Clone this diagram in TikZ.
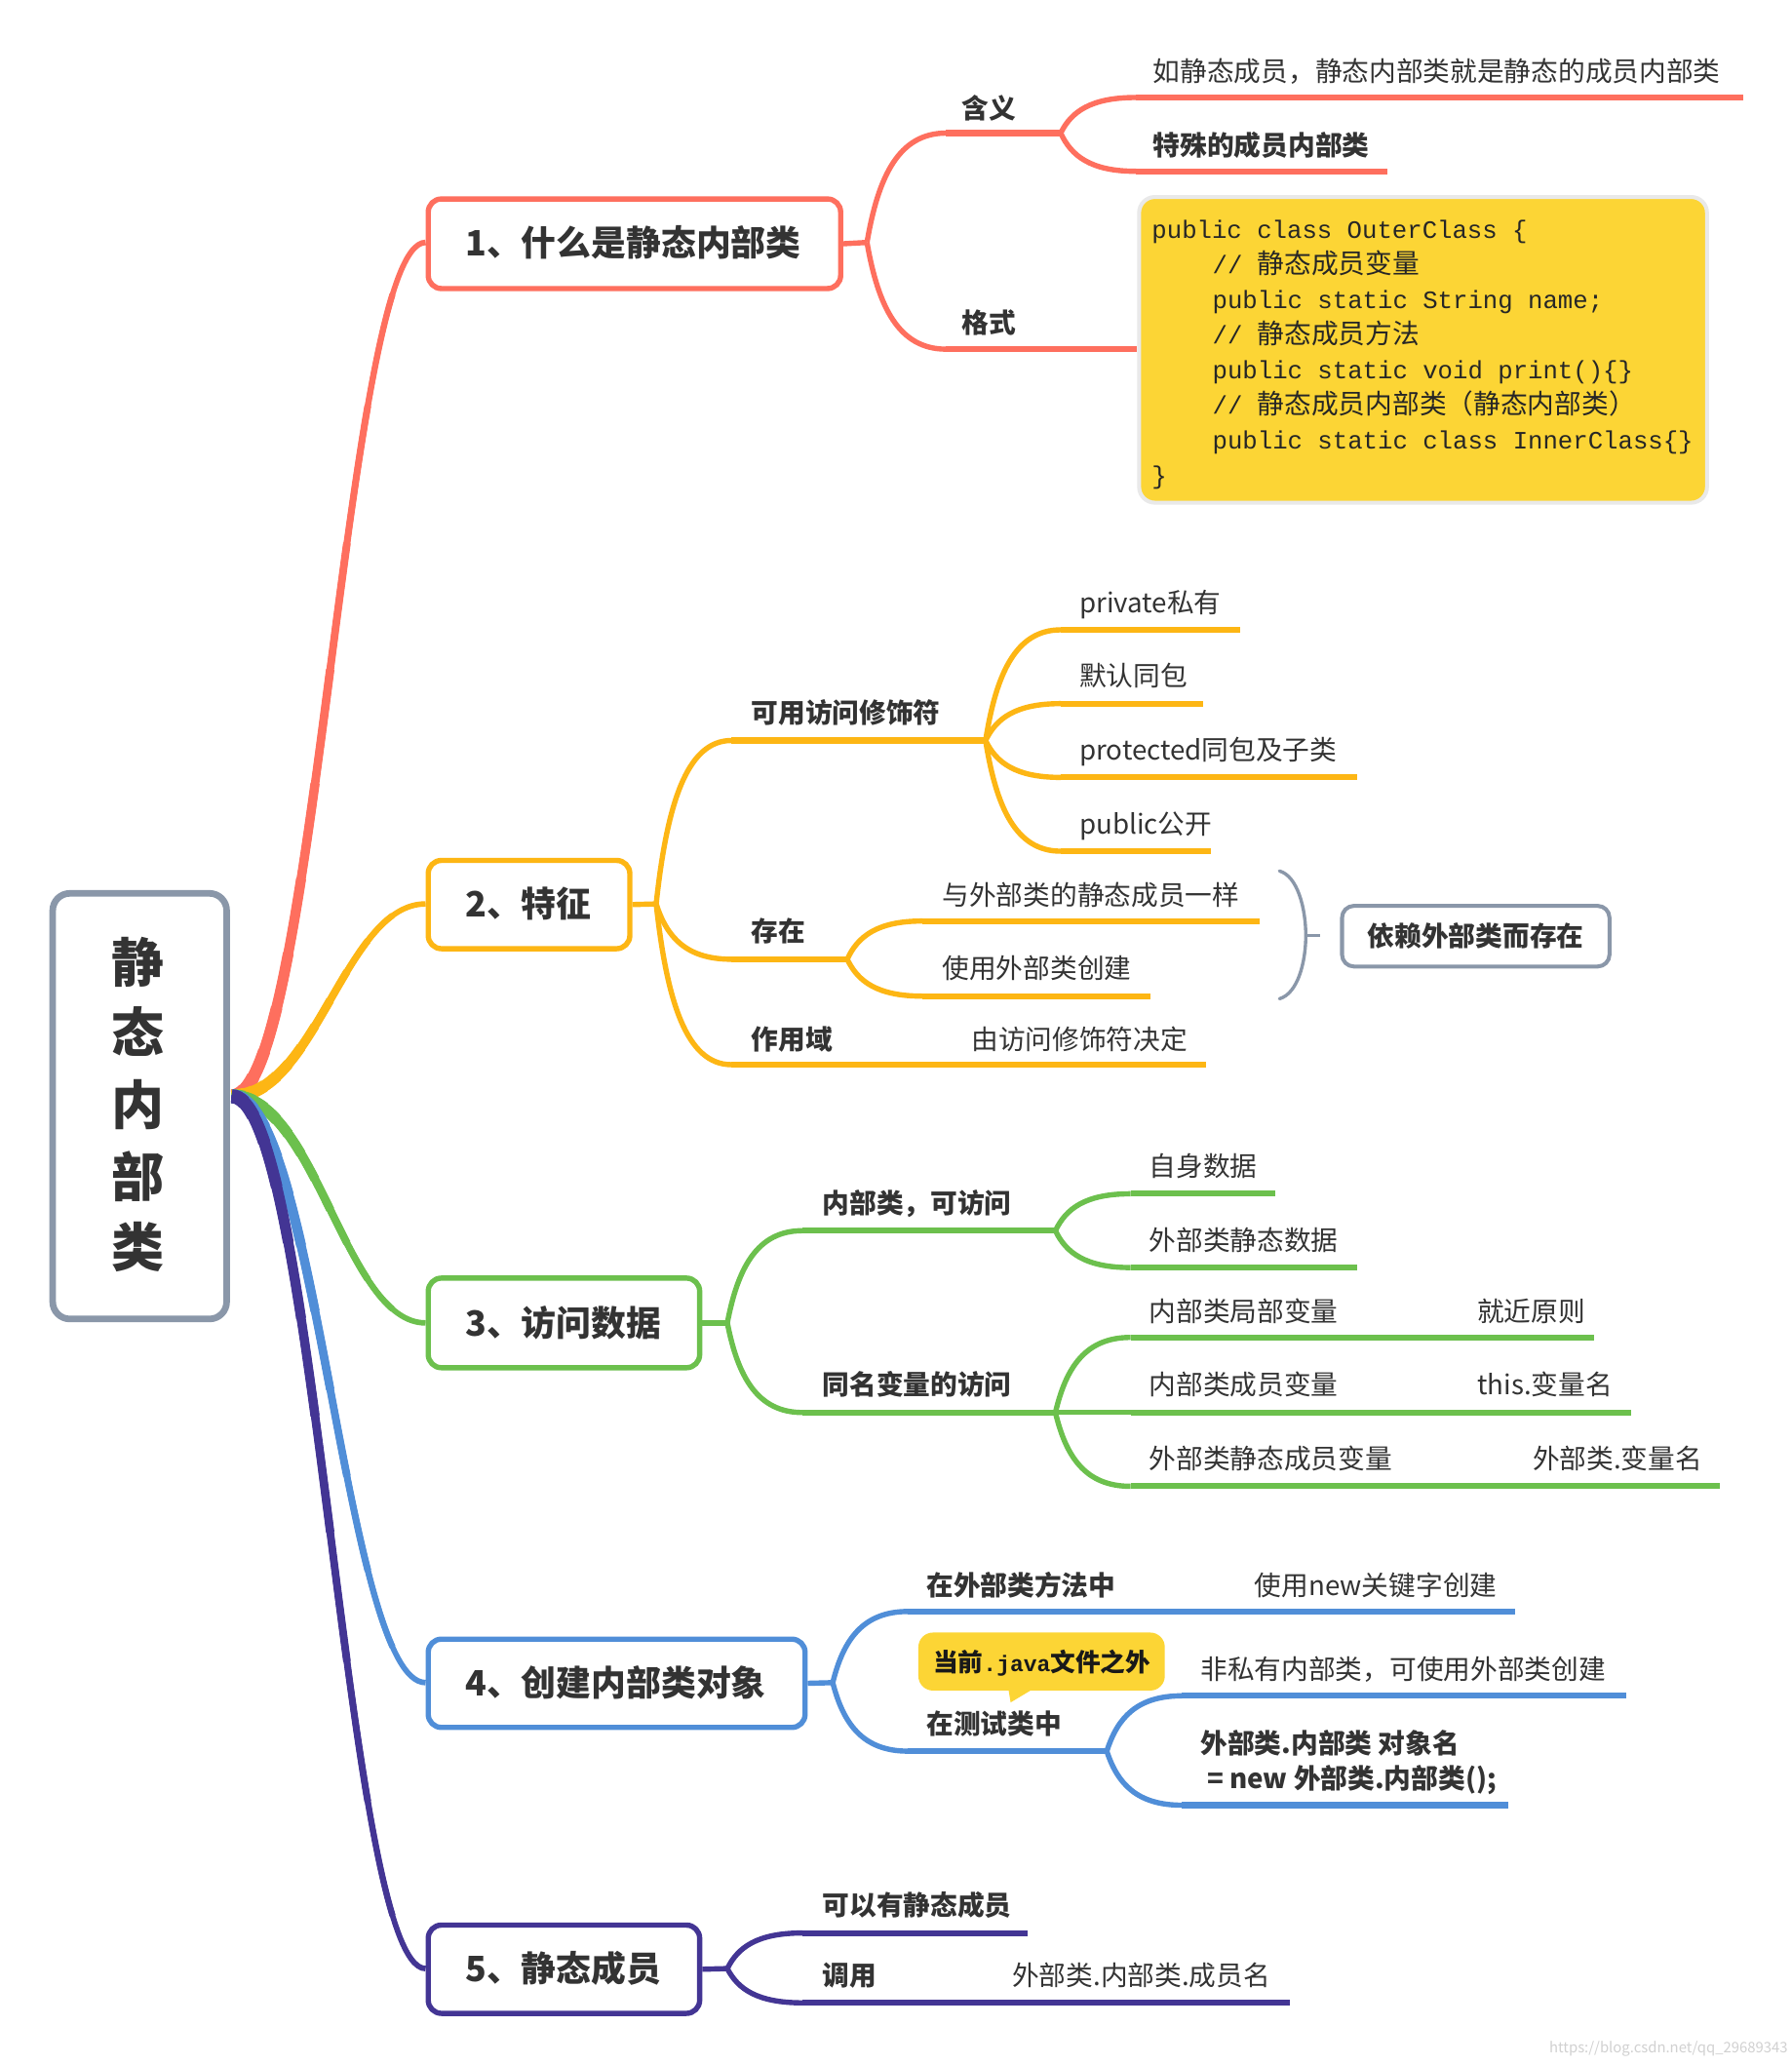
\documentclass[tikz,border=0pt]{standalone}
\usepackage{fontspec}
\setmainfont{Noto Sans CJK SC}
\newfontfamily\codefont{Liberation Mono}
\usetikzlibrary{calc}
\definecolor{cred}{HTML}{FE6F5E}
\definecolor{cyel}{HTML}{FDB614}
\definecolor{cgrn}{HTML}{6CC04D}
\definecolor{cblu}{HTML}{508ED8}
\definecolor{cpur}{HTML}{433594}
\definecolor{cgray}{HTML}{8A97A9}
\definecolor{ccode}{HTML}{FCD535}
\definecolor{ccodeb}{HTML}{E9E9E9}
\definecolor{ctxt}{HTML}{333333}
\newcommand\zh[1]{{\rmfamily\fontsize{20.5}{24}\selectfont #1}}
% tapered main branch from the root to a topic at height #2
\newcommand\mainbr[2]{%
  \foreach \t/\w in {1/4.2, 0.85/4.7, 0.72/5.2, 0.6/5.8, 0.5/6.4, 0.41/7, 0.33/7.6, 0.26/8.2, 0.2/8.8, 0.14/9.4, 0.09/10, 0.05/10.6}{%
    \pgfmathsetmacro\s{1-\t}%
    \pgfmathsetmacro\qax{176+\t*64}%
    \pgfmathsetmacro\qbx{\s*\s*176+2*\t*\s*240+\t*\t*262}%
    \pgfmathsetmacro\qby{(1-\t*\t)*832+\t*\t*#2}%
    \pgfmathsetmacro\qcx{\s*\s*\s*176+3*\t*\s*\s*240+3*\t*\t*\s*262+\t*\t*\t*323}%
    \pgfmathsetmacro\qcy{(\s*\s*\s+3*\t*\s*\s)*832+(3*\t*\t*\s+\t*\t*\t)*#2}%
    \draw[#1, line width=\w pt] (r0) .. controls (\qax,832) and (\qbx,\qby) .. (\qcx,\qcy);
  }}
% junction curve from named point #2 to named point #3
\newcommand\subcv[3]{\draw[#1] let \p1=(#2), \p2=(#3) in (\p1) .. controls ({\x1+0.14*(\x2-\x1)},{\y1+0.6*(\y2-\y1)}) and ({\x1+0.4*(\x2-\x1)},\y2) .. (\p2);}
\begin{document}
\begin{tikzpicture}[x=1pt,y=-1pt,line join=round,
  txt/.style={anchor=west, inner sep=0, text=ctxt, font=\fontsize{20.5}{24}\selectfont, text height=18pt, text depth=2.5pt},
  btxt/.style={txt, font=\fontsize{20.5}{24}\selectfont\bfseries},
  topictxt/.style={txt, font=\fontsize{26.5}{30}\selectfont\bfseries, text height=23.3pt, text depth=3.2pt},
  codeln/.style={txt, font=\codefont\fontsize{19}{24}\selectfont, text=black!85},
  tbox/.style={draw, line width=4pt, rounded corners=10pt, fill=white, inner sep=0},
  ln/.style={line width=4.5pt},
  cv/.style={line width=4pt},
  roottxt/.style={inner sep=0, text=ctxt, font=\fontsize{40}{44}\selectfont\bfseries}
]
\fill[white] (0,0) rectangle (1360,1567.2);
\useasboundingbox (0,0) rectangle (1360,1567.2);

\coordinate (r0) at (176,832);
% main branches
\mainbr{cred}{184}
\mainbr{cyel}{686}
\mainbr{cgrn}{1004}
\mainbr{cblu}{1277}
\mainbr{cpur}{1494}

% root
\node[draw=cgray, line width=5pt, rounded corners=13pt, fill=white, inner sep=0, minimum width=132pt, minimum height=323pt] (root) at (106,839.5) {};
\node[roottxt] (rc1) at (105,730) {静};
\node[roottxt] (rc2) at (105,783) {态};
\node[roottxt] (rc3) at (105,838) {内};
\node[roottxt] (rc4) at (105,893) {部};
\node[roottxt] (rc5) at (105,946) {类};

% topic boxes
\node[tbox, draw=cred, minimum width=313pt, minimum height=68pt] (t1) at (481.5,185) {};
\node[tbox, draw=cyel, minimum width=153pt, minimum height=67pt] (t2) at (401.5,686.5) {};
\node[tbox, draw=cgrn, minimum width=206pt, minimum height=68pt] (t3) at (428,1004) {};
\node[tbox, draw=cblu, minimum width=286pt, minimum height=67pt] (t4) at (468,1277.5) {};
\node[tbox, draw=cpur, minimum width=206pt, minimum height=67pt] (t5) at (428,1494.5) {};
\node[topictxt] (t1t) at (353,184) {1、什么是静态内部类};
\node[topictxt] (t2t) at (353,686) {2、特征};
\node[topictxt] (t3t) at (353,1004) {3、访问数据};
\node[topictxt] (t4t) at (353,1277) {4、创建内部类对象};
\node[topictxt] (t5t) at (353,1494) {5、静态成员};

% ---------- branch 1 ----------
\coordinate (j1) at (658,184);
\coordinate (a1) at (718,101); \coordinate (a1e) at (805,101);
\coordinate (a2) at (718,265);
\coordinate (b1) at (862,74); \coordinate (b1e) at (1323,74);
\coordinate (b2) at (862,130); \coordinate (b2e) at (1053,130);
\node[draw=ccodeb, line width=3pt, fill=ccode, rounded corners=12pt, inner sep=0, minimum width=431pt, minimum height=232pt] (code) at (1080,265.5) {};
\draw[cred,cv] (t1.east) -- (j1);
\subcv{cred,cv}{j1}{a1}
\subcv{cred,cv}{j1}{a2}
\draw[cred,ln] (a1) -- (a1e);
\draw[cred,ln] (a2) -- (code.west |- a2);
\subcv{cred,cv}{a1e}{b1}
\subcv{cred,cv}{a1e}{b2}
\draw[cred,ln] (b1) -- (b1e);
\draw[cred,ln] (b2) -- (b2e);
\node[btxt] (hy) at (730,82) {含义};
\node[btxt] (gs) at (730,245) {格式};
\node[txt] (hy1) at (875,54) {如静态成员，静态内部类就是静态的成员内部类};
\node[btxt] (hy2) at (875,110) {特殊的成员内部类};
\node[codeln] (c1) at (874,173) {public class OuterClass \{};
\node[codeln] (c2) at (920,199.7) {// \zh{静态成员变量}};
\node[codeln] (c3) at (920,226.4) {public static String name;};
\node[codeln] (c4) at (920,253.1) {// \zh{静态成员方法}};
\node[codeln] (c5) at (920,279.8) {public static void print()\{\}};
\node[codeln] (c6) at (920,306.5) {// \zh{静态成员内部类（静态内部类）}};
\node[codeln] (c7) at (920,333.2) {public static class InnerClass\{\}};
\node[codeln] (c8) at (874,359.9) {\}};

% ---------- branch 2 ----------
\coordinate (j2) at (498,686);
\coordinate (p1) at (555,562); \coordinate (p1e) at (748,562);
\coordinate (d1) at (805,478); \coordinate (d1e) at (941,478);
\coordinate (d2) at (805,534); \coordinate (d2e) at (913,534);
\coordinate (d3) at (805,590); \coordinate (d3e) at (1030,590);
\coordinate (d4) at (805,646); \coordinate (d4e) at (919,646);
\coordinate (p2) at (555,728); \coordinate (p2e) at (643,728);
\coordinate (e1) at (700,699); \coordinate (e1e) at (956,699);
\coordinate (e2) at (700,756); \coordinate (e2e) at (873,756);
\coordinate (p3) at (555,808); \coordinate (p3e) at (915,808);
\draw[cyel,cv] (t2.east) -- (j2);
\subcv{cyel,cv}{j2}{p1}
\subcv{cyel,cv}{j2}{p2}
\subcv{cyel,cv}{j2}{p3}
\draw[cyel,ln] (p1) -- (p1e);
\draw[cyel,ln] (p2) -- (p2e);
\draw[cyel,ln] (p3) -- (p3e);
\subcv{cyel,cv}{p1e}{d1}
\subcv{cyel,cv}{p1e}{d2}
\subcv{cyel,cv}{p1e}{d3}
\subcv{cyel,cv}{p1e}{d4}
\draw[cyel,ln] (d1) -- (d1e);
\draw[cyel,ln] (d2) -- (d2e);
\draw[cyel,ln] (d3) -- (d3e);
\draw[cyel,ln] (d4) -- (d4e);
\subcv{cyel,cv}{p2e}{e1}
\subcv{cyel,cv}{p2e}{e2}
\draw[cyel,ln] (e1) -- (e1e);
\draw[cyel,ln] (e2) -- (e2e);
\node[btxt] (ky) at (570,541) {可用访问修饰符};
\node[txt] (m1) at (819,457) {private私有};
\node[txt] (m2) at (819,513) {默认同包};
\node[txt] (m3) at (819,569) {protected同包及子类};
\node[txt] (m4) at (819,625) {public公开};
\node[btxt] (cz) at (570,707) {存在};
\node[txt] (cz1) at (715,679) {与外部类的静态成员一样};
\node[txt] (cz2) at (715,735) {使用外部类创建};
\node[btxt] (zy) at (570,789) {作用域};
\node[txt] (zy1) at (737,789) {由访问修饰符决定};
% brace and summary
\coordinate (brt) at (971,661); \coordinate (brm) at (991,710); \coordinate (brb) at (971,758); \coordinate (brk) at (1002,710);
\draw[cgray, line width=2.5pt, line cap=round] (brt) .. controls (985,665) and (991,690) .. (brm) .. controls (991,730) and (985,754) .. (brb);
\draw[cgray, line width=2.5pt] (brm) -- (brk);
\node[draw=cgray, line width=3pt, rounded corners=9pt, fill=white, inner sep=0, minimum width=203pt, minimum height=46pt] (dep) at (1120,710.5) {};
\node[btxt, anchor=center] (dept) at (dep.center) {依赖外部类而存在};

% ---------- branch 3 ----------
\coordinate (j3) at (552,1004);
\coordinate (f1) at (609,934); \coordinate (f1e) at (801,934);
\coordinate (g1) at (858,906); \coordinate (g1e) at (968,906);
\coordinate (g2) at (858,962); \coordinate (g2e) at (1030,962);
\coordinate (f2) at (609,1072); \coordinate (f2e) at (801,1072);
\coordinate (h1) at (858,1015); \coordinate (h1e) at (1210,1015);
\coordinate (h2) at (858,1072); \coordinate (h2e) at (1238,1072);
\coordinate (h3) at (858,1128); \coordinate (h3e) at (1305,1128);
\draw[cgrn,cv] (t3.east) -- (j3);
\subcv{cgrn,cv}{j3}{f1}
\subcv{cgrn,cv}{j3}{f2}
\draw[cgrn,ln] (f1) -- (f1e);
\draw[cgrn,ln] (f2) -- (f2e);
\subcv{cgrn,cv}{f1e}{g1}
\subcv{cgrn,cv}{f1e}{g2}
\draw[cgrn,ln] (g1) -- (g1e);
\draw[cgrn,ln] (g2) -- (g2e);
\subcv{cgrn,cv}{f2e}{h1}
\subcv{cgrn,cv}{f2e}{h2}
\subcv{cgrn,cv}{f2e}{h3}
\draw[cgrn,ln] (h1) -- (h1e);
\draw[cgrn,ln] (h2) -- (h2e);
\draw[cgrn,ln] (h3) -- (h3e);
\node[btxt] (nb) at (624,913) {内部类，可访问};
\node[txt] (nb1) at (872,885) {自身数据};
\node[txt] (nb2) at (872,941) {外部类静态数据};
\node[btxt] (tm) at (624,1051) {同名变量的访问};
\node[txt] (tm1) at (872,995) {内部类局部变量};
\node[txt] (tm1b) at (1121,995) {就近原则};
\node[txt] (tm2) at (872,1051) {内部类成员变量};
\node[txt] (tm2b) at (1121,1051) {this.变量名};
\node[txt] (tm3) at (872,1107) {外部类静态成员变量};
\node[txt] (tm3b) at (1163,1107) {外部类.变量名};

% ---------- branch 4 ----------
\coordinate (j4) at (632,1277);
\coordinate (k1) at (689,1223); \coordinate (k1e) at (1150,1223);
\coordinate (k2) at (689,1329); \coordinate (k2e) at (840,1329);
\coordinate (q1) at (897,1287); \coordinate (q1e) at (1234,1287);
\coordinate (q2) at (897,1370); \coordinate (q2e) at (1145,1370);
\draw[cblu,cv] (t4.east) -- (j4);
\subcv{cblu,cv}{j4}{k1}
\subcv{cblu,cv}{j4}{k2}
\draw[cblu,ln] (k1) -- (k1e);
\draw[cblu,ln] (k2) -- (k2e);
\subcv{cblu,cv}{k2e}{q1}
\subcv{cblu,cv}{k2e}{q2}
\draw[cblu,ln] (q1) -- (q1e);
\draw[cblu,ln] (q2) -- (q2e);
\node[btxt] (wf) at (703,1203) {在外部类方法中};
\node[txt] (wf1) at (952,1203) {使用new关键字创建};
\node[btxt] (cs) at (703,1308) {在测试类中};
\node[fill=ccode, rounded corners=11pt, inner sep=0, minimum width=187pt, minimum height=44pt] (bub) at (790.5,1261) {};
\fill[ccode] (765,1280) -- (787,1280) -- (767,1292) -- cycle;
\node[txt, text=black!90] (bubt) at (708,1261) {{\fontsize{19}{22}\selectfont\bfseries 当前}{\codefont\fontsize{17}{22}\selectfont\bfseries .java}{\fontsize{19}{22}\selectfont\bfseries 文件之外}};
\node[txt] (cs1) at (911,1267) {非私有内部类，可使用外部类创建};
\node[btxt] (cs2) at (911,1323) {外部类.内部类 对象名};
\node[btxt] (cs3) at (916,1350) {= new 外部类.内部类();};

% ---------- branch 5 ----------
\coordinate (j5) at (552,1494);
\coordinate (n1) at (609,1467); \coordinate (n1e) at (780,1467);
\coordinate (n2) at (609,1520); \coordinate (n2e) at (979,1520);
\draw[cpur,cv] (t5.east) -- (j5);
\subcv{cpur,cv}{j5}{n1}
\subcv{cpur,cv}{j5}{n2}
\draw[cpur,ln] (n1) -- (n1e);
\draw[cpur,ln] (n2) -- (n2e);
\node[btxt] (ky5) at (624,1446) {可以有静态成员};
\node[btxt] (dy) at (624,1499) {调用};
\node[txt] (dy1) at (768,1499) {外部类.内部类.成员名};

% watermark
\node[anchor=east, inner sep=0, text=black!18, font=\fontsize{11}{13}\selectfont] (wm) at (1357,1555) {https://blog.csdn.net/qq\_29689343};
\end{tikzpicture}
\end{document}
